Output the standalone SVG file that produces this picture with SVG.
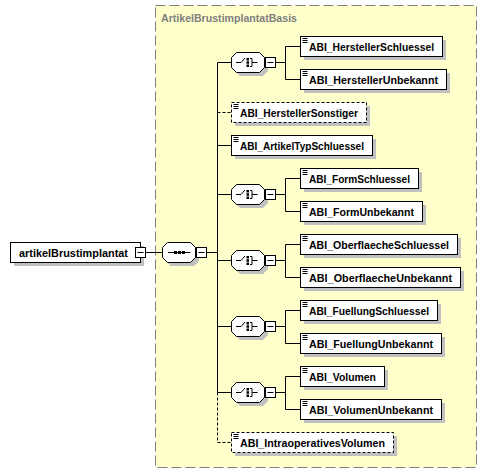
<svg xmlns="http://www.w3.org/2000/svg" xmlns:xlink="http://www.w3.org/1999/xlink" width="487" height="474" viewBox="0 0 487 474">
<style>
.bg{fill:#FFFFCC;stroke:#808080;stroke-dasharray:10,4}
.ttl{font-family:"Liberation Sans",Arial,sans-serif;font-weight:bold;font-size:11px;fill:#808080}
.box{fill:#fff;stroke:#000}
.opt{stroke-dasharray:3,2}
.sh{fill:#C0C0C0;stroke:none}
.lbl{font-family:"Liberation Sans",Arial,sans-serif;font-weight:bold;font-size:11px;fill:#000}
.ln{fill:none;stroke:#000}
.dl{fill:none;stroke:#000;stroke-dasharray:3,2}
</style>
<defs>
<path id="oct" d="M5,-10H28L33,-5V5L28,10H5L0,5V-5Z"/>
<g id="btn"><rect x="0" y="-5" width="10" height="10" fill="#fff" stroke="#000"/><path d="M2,0H8" stroke="#000"/></g>
<path id="ico" d="M2,2H7M2,4H7M2,6H7" stroke="#000" fill="none"/>
<g id="chi">
<path d="M4.5,0H9.5L13.5,-4.5M18.5,-4H20.5V4H18.5M20.5,0H26" stroke="#000" fill="none"/>
<rect x="15" y="-4.5" width="2.5" height="2.5" fill="#000"/>
<rect x="15" y="-1.25" width="2.5" height="2.5" fill="#000"/>
<rect x="15" y="2" width="2.5" height="2.5" fill="#000"/>
</g>
<g id="sqi">
<path d="M5.5,0H28" stroke="#000" fill="none"/>
<rect x="11.5" y="-1.5" width="3" height="3" fill="#000"/>
<rect x="15.5" y="-1.5" width="3" height="3" fill="#000"/>
<rect x="19.5" y="-1.5" width="3" height="3" fill="#000"/>
</g>
</defs>

<g id="type-bg">
<rect class="bg" x="155.5" y="5.5" width="321" height="462"/>
<text class="ttl" x="161" y="21.5" textLength="136" lengthAdjust="spacingAndGlyphs">ArtikelBrustimplantatBasis</text>
</g>

<g id="connectors">
<path class="ln" d="M145.5,252.5H162.5M206.5,252.5H217.5M217.5,62.5V392.5"/>
<path class="dl" d="M217.5,392.5V442.5"/>
<path class="ln" d="M217.5,62.5H231.5M217.5,145.5H231.5M217.5,194.5H231.5M217.5,260.5H231.5M217.5,326.5H231.5M217.5,392.5H231.5"/>
<path class="dl" d="M217.5,112.5H231.5M217.5,442.5H231.5"/>
<path class="ln" d="M275.5,62.5H285.5M285.5,46.5V79.5M285.5,46.5H300.5M285.5,79.5H300.5"/>
<path class="ln" d="M275.5,194.5H285.5M285.5,178.5V211.5M285.5,178.5H300.5M285.5,211.5H300.5"/>
<path class="ln" d="M275.5,260.5H285.5M285.5,244.5V277.5M285.5,244.5H300.5M285.5,277.5H300.5"/>
<path class="ln" d="M275.5,326.5H285.5M285.5,310.5V343.5M285.5,310.5H300.5M285.5,343.5H300.5"/>
<path class="ln" d="M275.5,392.5H285.5M285.5,376.5V409.5M285.5,376.5H300.5M285.5,409.5H300.5"/>
</g>

<g id="n-root">
<rect class="sh" x="14" y="246" width="130" height="20"/>
<rect class="box" x="10.5" y="242.5" width="130" height="20"/>
<text class="lbl" x="19" y="256.5" textLength="109" lengthAdjust="spacingAndGlyphs">artikelBrustimplantat</text>
<use xlink:href="#btn" x="135.5" y="252.5"/>
</g>

<g id="n-sequence">
<use xlink:href="#oct" class="sh" x="166" y="256"/>
<use xlink:href="#oct" class="box" x="162.5" y="252.5"/>
<use xlink:href="#sqi" x="162.5" y="252.5"/>
<use xlink:href="#btn" x="196.5" y="252.5"/>
</g>

<g id="n-choice1">
<use xlink:href="#oct" class="sh" x="235" y="66"/>
<use xlink:href="#oct" class="box" x="231.5" y="62.5"/>
<use xlink:href="#chi" x="231.5" y="62.5"/>
<use xlink:href="#btn" x="265.5" y="62.5"/>
</g>
<g id="n-choice2">
<use xlink:href="#oct" class="sh" x="235" y="198"/>
<use xlink:href="#oct" class="box" x="231.5" y="194.5"/>
<use xlink:href="#chi" x="231.5" y="194.5"/>
<use xlink:href="#btn" x="265.5" y="194.5"/>
</g>
<g id="n-choice3">
<use xlink:href="#oct" class="sh" x="235" y="264"/>
<use xlink:href="#oct" class="box" x="231.5" y="260.5"/>
<use xlink:href="#chi" x="231.5" y="260.5"/>
<use xlink:href="#btn" x="265.5" y="260.5"/>
</g>
<g id="n-choice4">
<use xlink:href="#oct" class="sh" x="235" y="330"/>
<use xlink:href="#oct" class="box" x="231.5" y="326.5"/>
<use xlink:href="#chi" x="231.5" y="326.5"/>
<use xlink:href="#btn" x="265.5" y="326.5"/>
</g>
<g id="n-choice5">
<use xlink:href="#oct" class="sh" x="235" y="396"/>
<use xlink:href="#oct" class="box" x="231.5" y="392.5"/>
<use xlink:href="#chi" x="231.5" y="392.5"/>
<use xlink:href="#btn" x="265.5" y="392.5"/>
</g>

<g id="n-HerstellerSchluessel">
<rect class="sh" x="304" y="40" width="142" height="20"/>
<rect class="box" x="300.5" y="36.5" width="142" height="20"/>
<use xlink:href="#ico" x="300.5" y="36.5"/>
<text class="lbl" x="309" y="50.5" textLength="125" lengthAdjust="spacingAndGlyphs">ABI_HerstellerSchluessel</text>
</g>
<g id="n-HerstellerUnbekannt">
<rect class="sh" x="304" y="73" width="146" height="20"/>
<rect class="box" x="300.5" y="69.5" width="146" height="20"/>
<use xlink:href="#ico" x="300.5" y="69.5"/>
<text class="lbl" x="309" y="83.5" textLength="129" lengthAdjust="spacingAndGlyphs">ABI_HerstellerUnbekannt</text>
</g>
<g id="n-HerstellerSonstiger">
<rect class="sh" x="235" y="106" width="135" height="20"/>
<rect class="box opt" x="231.5" y="102.5" width="135" height="20"/>
<use xlink:href="#ico" x="231.5" y="102.5"/>
<text class="lbl" x="240" y="116.5" textLength="118" lengthAdjust="spacingAndGlyphs">ABI_HerstellerSonstiger</text>
</g>
<g id="n-ArtikelTypSchluessel">
<rect class="sh" x="235" y="139" width="141" height="20"/>
<rect class="box" x="231.5" y="135.5" width="141" height="20"/>
<use xlink:href="#ico" x="231.5" y="135.5"/>
<text class="lbl" x="240" y="149.5" textLength="124" lengthAdjust="spacingAndGlyphs">ABI_ArtikelTypSchluessel</text>
</g>
<g id="n-FormSchluessel">
<rect class="sh" x="304" y="172" width="118" height="20"/>
<rect class="box" x="300.5" y="168.5" width="118" height="20"/>
<use xlink:href="#ico" x="300.5" y="168.5"/>
<text class="lbl" x="309" y="182.5" textLength="101" lengthAdjust="spacingAndGlyphs">ABI_FormSchluessel</text>
</g>
<g id="n-FormUnbekannt">
<rect class="sh" x="304" y="205" width="122" height="20"/>
<rect class="box" x="300.5" y="201.5" width="122" height="20"/>
<use xlink:href="#ico" x="300.5" y="201.5"/>
<text class="lbl" x="309" y="215.5" textLength="105" lengthAdjust="spacingAndGlyphs">ABI_FormUnbekannt</text>
</g>
<g id="n-OberflaecheSchluessel">
<rect class="sh" x="304" y="238" width="157" height="20"/>
<rect class="box" x="300.5" y="234.5" width="157" height="20"/>
<use xlink:href="#ico" x="300.5" y="234.5"/>
<text class="lbl" x="309" y="248.5" textLength="140" lengthAdjust="spacingAndGlyphs">ABI_OberflaecheSchluessel</text>
</g>
<g id="n-OberflaecheUnbekannt">
<rect class="sh" x="304" y="271" width="160" height="20"/>
<rect class="box" x="300.5" y="267.5" width="160" height="20"/>
<use xlink:href="#ico" x="300.5" y="267.5"/>
<text class="lbl" x="309" y="281.5" textLength="143" lengthAdjust="spacingAndGlyphs">ABI_OberflaecheUnbekannt</text>
</g>
<g id="n-FuellungSchluessel">
<rect class="sh" x="304" y="304" width="137" height="20"/>
<rect class="box" x="300.5" y="300.5" width="137" height="20"/>
<use xlink:href="#ico" x="300.5" y="300.5"/>
<text class="lbl" x="309" y="314.5" textLength="120" lengthAdjust="spacingAndGlyphs">ABI_FuellungSchluessel</text>
</g>
<g id="n-FuellungUnbekannt">
<rect class="sh" x="304" y="337" width="141" height="20"/>
<rect class="box" x="300.5" y="333.5" width="141" height="20"/>
<use xlink:href="#ico" x="300.5" y="333.5"/>
<text class="lbl" x="309" y="347.5" textLength="124" lengthAdjust="spacingAndGlyphs">ABI_FuellungUnbekannt</text>
</g>
<g id="n-Volumen">
<rect class="sh" x="304" y="370" width="84" height="20"/>
<rect class="box" x="300.5" y="366.5" width="84" height="20"/>
<use xlink:href="#ico" x="300.5" y="366.5"/>
<text class="lbl" x="309" y="380.5" textLength="67" lengthAdjust="spacingAndGlyphs">ABI_Volumen</text>
</g>
<g id="n-VolumenUnbekannt">
<rect class="sh" x="304" y="403" width="141" height="20"/>
<rect class="box" x="300.5" y="399.5" width="141" height="20"/>
<use xlink:href="#ico" x="300.5" y="399.5"/>
<text class="lbl" x="309" y="413.5" textLength="124" lengthAdjust="spacingAndGlyphs">ABI_VolumenUnbekannt</text>
</g>
<g id="n-IntraoperativesVolumen">
<rect class="sh" x="235" y="436" width="162" height="20"/>
<rect class="box opt" x="231.5" y="432.5" width="162" height="20"/>
<use xlink:href="#ico" x="231.5" y="432.5"/>
<text class="lbl" x="240" y="446.5" textLength="145" lengthAdjust="spacingAndGlyphs">ABI_IntraoperativesVolumen</text>
</g>
</svg>
